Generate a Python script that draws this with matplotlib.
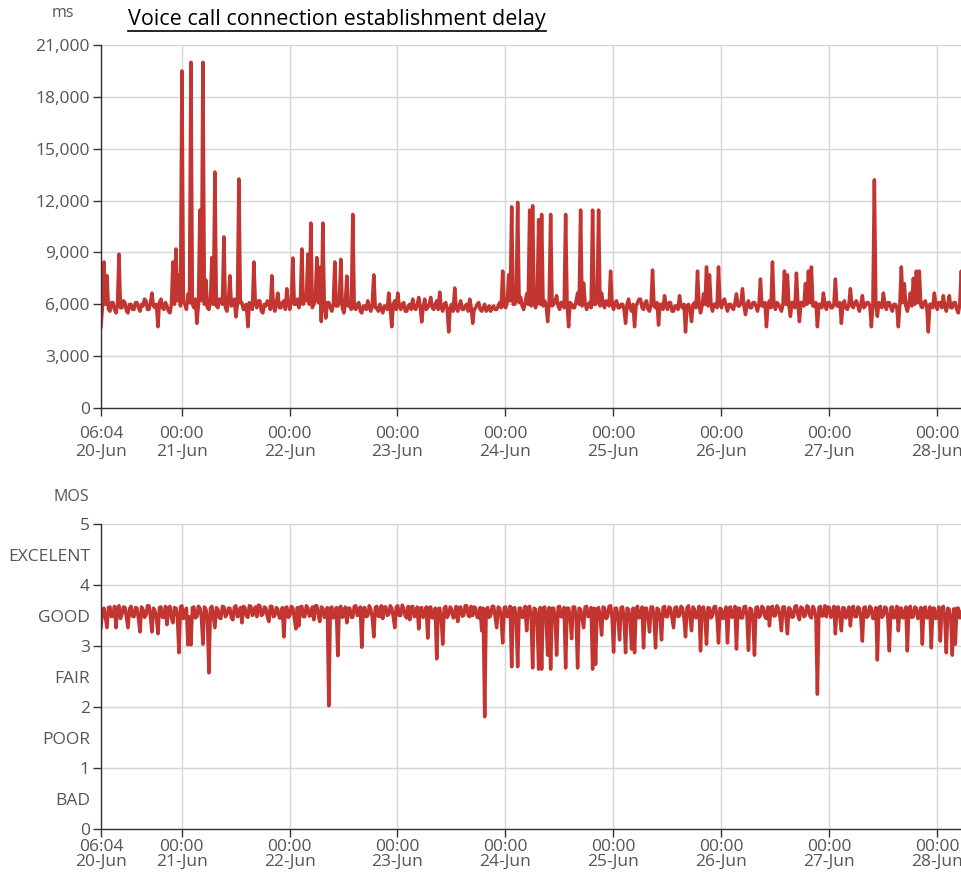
import matplotlib
matplotlib.use("Agg")
import matplotlib.pyplot as plt
from matplotlib.lines import Line2D
from datetime import datetime, timedelta

plt.rcParams['font.family'] = ['Open Sans', 'DejaVu Sans']

# ---------------- data ----------------
start_time = datetime(2019, 6, 20, 6, 4)
sample_minutes = 20
end_time = datetime(2019, 6, 28, 5, 20)

title = "Voice call connection establishment delay"
delay_unit = "ms"
mos_unit = "MOS"

delay_ms = [
    4700, 5900, 8450, 6000, 7650, 5700, 5600, 6100, 6100, 5700, 5500, 6000, 8900, 5800, 5800, 6200, 6100, 5600, 5500, 6000, 6000, 5700, 5700, 6100,
    6100, 5800, 5600, 6000, 5900, 6300, 6200, 5700, 5700, 6100, 6650, 5900, 5800, 6000, 4700, 6100, 6300, 5800, 5700, 6100, 5900, 5600, 5500, 6000,
    8450, 6000, 9200, 6200, 7700, 5900, 19500, 6100, 6000, 5700, 6600, 6100, 20000, 6000, 5800, 6300, 4900, 6000, 11450, 6200, 20000, 6000, 7400, 5800,
    5700, 6200, 8700, 6000, 13650, 5900, 5800, 6300, 6300, 6000, 9900, 5800, 5600, 6200, 7650, 5900, 6000, 6300, 5270, 6000, 13250, 6100, 6100, 5700,
    5700, 6000, 4700, 6100, 6000, 5700, 8450, 6000, 5800, 6200, 6200, 5600, 5500, 6000, 5900, 6200, 6100, 5700, 7650, 5900, 5600, 6100, 6650, 5800,
    5800, 6100, 6200, 5700, 6900, 6000, 5700, 6200, 8680, 6000, 6000, 6300, 5800, 6100, 9200, 6000, 6500, 6200, 8900, 6000, 10700, 5800, 6000, 6300,
    8700, 6100, 8150, 5000, 10700, 6000, 5200, 6100, 6100, 5800, 5600, 6000, 8450, 5900, 5900, 6100, 8600, 5800, 5500, 6000, 7630, 5900, 6000, 5700,
    11200, 5800, 5700, 6000, 6100, 5600, 5500, 5900, 5900, 5700, 6200, 5800, 5600, 6000, 7700, 5800, 5800, 5600, 6000, 5700, 5500, 5900, 5900, 5700,
    6650, 5800, 4700, 6000, 6200, 5700, 6650, 5900, 5700, 6000, 6100, 5600, 5600, 5900, 6000, 5700, 6300, 5800, 5700, 6000, 6400, 5800, 4980, 5900,
    6300, 5700, 5800, 6000, 6400, 5800, 5700, 6000, 6200, 5700, 6700, 5800, 5600, 6000, 6100, 5700, 4400, 5800, 6000, 5600, 6940, 5800, 5600, 5900,
    6200, 5700, 5700, 5900, 6000, 5600, 6300, 5800, 4900, 5700, 5800, 6000, 6100, 5700, 5600, 5800, 6000, 5600, 5700, 5900, 5600, 5800, 5900, 5700,
    5700, 5900, 6100, 5800, 7920, 5900, 5800, 6100, 7700, 6200, 11640, 6000, 6000, 6200, 11900, 6100, 6400, 5900, 5700, 6100, 6600, 6000, 11450, 5900,
    11700, 6000, 5800, 6200, 10900, 6000, 11200, 5900, 6200, 6000, 5000, 6100, 11200, 5900, 6000, 6200, 6500, 5900, 5700, 6100, 6100, 5800, 11200, 6000,
    4700, 6100, 6000, 5800, 5800, 6200, 6650, 6000, 11450, 5900, 7230, 6100, 5700, 6000, 6100, 5800, 11450, 6000, 6000, 6200, 11450, 5900, 6650, 6000,
    5800, 6200, 6100, 5900, 7920, 6000, 5700, 6100, 6200, 5800, 5800, 6000, 6000, 5700, 4900, 6000, 6300, 5800, 5600, 6000, 4700, 5900, 6100, 6300,
    6300, 5800, 5700, 6100, 6200, 5700, 5600, 6000, 7980, 5900, 5800, 6100, 4800, 6000, 6000, 5700, 6500, 5900, 5700, 6100, 6100, 5600, 5600, 5900,
    5900, 5700, 6500, 5900, 5800, 6000, 4400, 5900, 6000, 5700, 5000, 6000, 6100, 5800, 7920, 6000, 5500, 5900, 6600, 6000, 8160, 5900, 7700, 6000,
    5600, 6000, 6000, 5800, 8160, 6000, 5800, 6200, 6300, 5900, 5600, 6000, 6000, 5800, 5700, 6100, 6600, 5900, 5900, 6100, 6900, 5900, 5400, 6000,
    6200, 5800, 5800, 6100, 6100, 5900, 5600, 6000, 7460, 5900, 5900, 6100, 4700, 6000, 6200, 5800, 8450, 6000, 5700, 6100, 6000, 5800, 5600, 6000,
    7920, 6000, 7700, 5900, 5300, 6100, 6100, 5800, 7800, 6000, 5000, 6100, 6100, 5900, 7200, 6000, 7920, 6100, 8160, 5900, 5900, 6100, 4700, 6000,
    6000, 5800, 6650, 6000, 5700, 6100, 6100, 5800, 5800, 6000, 7460, 5900, 5900, 6100, 4900, 6000, 6200, 5800, 5700, 6000, 6900, 5900, 5800, 6100,
    6200, 5900, 5600, 6000, 6500, 5800, 5900, 6100, 6100, 5900, 4700, 6000, 13200, 6000, 5300, 6100, 6000, 5800, 6650, 6000, 5700, 6100, 6100, 5800,
    5600, 6000, 6000, 5800, 4700, 6000, 8160, 6100, 7200, 5900, 5600, 6000, 6650, 5900, 7500, 6000, 7920, 6100, 7920, 5900, 5800, 6100, 6200, 5800,
    4400, 6000, 6000, 5800, 6650, 6000, 5700, 6100, 6100, 5800, 6500, 5900, 5600, 6000, 6500, 5800, 5800, 6100, 6100, 5700, 5500, 6000, 7920, 6000,
]

mos = [
    3.30, 3.60, 3.62, 3.46, 3.30, 3.63, 3.64, 3.48, 3.50, 3.65, 3.30, 3.62, 3.66, 3.45, 3.52, 3.64, 3.63, 3.47, 3.30, 3.61, 3.65, 3.49, 3.48, 3.63,
    3.62, 3.45, 3.23, 3.64, 3.60, 3.47, 3.50, 3.66, 3.66, 3.48, 3.23, 3.62, 3.58, 3.46, 3.20, 3.63, 3.64, 3.47, 3.47, 3.65, 3.35, 3.62, 3.65, 3.46,
    3.38, 3.63, 3.62, 3.47, 2.89, 3.64, 3.66, 3.45, 3.50, 3.62, 3.02, 3.48, 3.02, 3.63, 3.64, 3.46, 3.48, 3.65, 3.62, 3.47, 3.03, 3.64, 3.60, 3.45,
    2.56, 3.62, 3.65, 3.47, 3.30, 3.63, 3.60, 3.46, 3.45, 3.65, 3.64, 3.48, 3.52, 3.62, 3.62, 3.46, 3.43, 3.64, 3.66, 3.48, 3.50, 3.63, 3.38, 3.65,
    3.63, 3.49, 3.47, 3.66, 3.65, 3.50, 3.55, 3.64, 3.48, 3.67, 3.66, 3.50, 3.52, 3.64, 3.62, 3.48, 3.40, 3.65, 3.65, 3.48, 3.50, 3.63, 3.60, 3.46,
    3.46, 3.63, 3.15, 3.62, 3.64, 3.47, 3.50, 3.65, 3.62, 3.46, 3.28, 3.63, 3.33, 3.64, 3.65, 3.48, 3.48, 3.66, 3.62, 3.49, 3.50, 3.64, 3.43, 3.66,
    3.66, 3.50, 3.40, 3.64, 3.62, 3.47, 3.50, 3.63, 2.02, 3.62, 3.64, 3.46, 3.48, 3.63, 2.84, 3.62, 3.65, 3.47, 3.50, 3.64, 3.38, 3.62, 3.62, 3.47,
    3.47, 3.65, 3.66, 3.50, 3.52, 3.64, 2.98, 3.62, 3.63, 3.48, 3.50, 3.66, 3.60, 3.47, 3.15, 3.63, 3.65, 3.49, 3.48, 3.66, 3.45, 3.64, 3.64, 3.50,
    3.52, 3.66, 3.62, 3.48, 3.30, 3.64, 3.66, 3.50, 3.50, 3.67, 3.62, 3.49, 3.46, 3.65, 3.43, 3.64, 3.65, 3.48, 3.50, 3.64, 3.28, 3.62, 3.63, 3.47,
    3.50, 3.64, 3.13, 3.63, 3.64, 3.46, 3.47, 3.62, 2.79, 3.61, 3.62, 3.45, 3.03, 3.62, 3.65, 3.47, 3.52, 3.64, 3.60, 3.46, 3.48, 3.65, 3.40, 3.63,
    3.64, 3.49, 3.50, 3.66, 3.66, 3.50, 3.48, 3.65, 3.50, 3.64, 3.62, 3.47, 3.46, 3.63, 3.25, 3.62, 1.84, 3.60, 3.63, 3.47, 3.50, 3.65, 3.65, 3.48,
    3.30, 3.64, 3.62, 3.47, 3.05, 3.63, 3.64, 3.48, 3.50, 3.65, 2.66, 3.62, 3.63, 3.46, 2.66, 3.62, 3.62, 3.47, 3.48, 3.65, 3.25, 3.63, 3.65, 3.48,
    2.64, 3.62, 3.60, 3.46, 2.62, 3.63, 2.62, 3.62, 3.64, 3.47, 2.85, 3.63, 2.62, 3.62, 3.62, 3.46, 2.85, 3.64, 3.65, 3.48, 3.48, 3.63, 2.64, 3.62,
    3.62, 3.47, 3.12, 3.64, 3.64, 3.48, 2.64, 3.62, 3.60, 3.46, 3.30, 3.64, 3.65, 3.48, 3.50, 3.63, 2.62, 3.62, 2.70, 3.61, 3.63, 3.47, 3.18, 3.64,
    3.62, 3.45, 3.48, 3.65, 3.66, 3.47, 2.90, 3.62, 3.62, 3.46, 3.10, 3.63, 3.64, 3.45, 2.89, 3.62, 3.60, 3.44, 2.95, 3.62, 2.89, 3.61, 3.65, 3.46,
    3.50, 3.64, 2.97, 3.62, 3.62, 3.46, 3.23, 3.64, 3.64, 3.47, 2.97, 3.62, 3.60, 3.45, 3.10, 3.63, 3.65, 3.48, 3.48, 3.64, 3.62, 3.46, 3.30, 3.63,
    3.64, 3.48, 3.50, 3.65, 3.62, 3.46, 3.15, 3.63, 3.66, 3.48, 3.25, 3.64, 3.60, 3.46, 3.48, 3.65, 2.92, 3.62, 3.64, 3.47, 3.03, 3.63, 3.62, 3.46,
    3.50, 3.64, 3.65, 3.48, 3.05, 3.62, 3.60, 3.45, 3.48, 3.64, 3.05, 3.62, 3.64, 3.47, 3.50, 3.65, 2.95, 3.62, 3.62, 3.46, 3.46, 3.64, 3.65, 3.48,
    2.93, 3.62, 3.60, 3.45, 2.85, 3.63, 3.64, 3.47, 3.50, 3.65, 3.62, 3.48, 3.45, 3.64, 3.33, 3.63, 3.65, 3.49, 3.50, 3.66, 3.62, 3.48, 3.25, 3.64,
    3.64, 3.48, 3.20, 3.63, 3.60, 3.47, 3.48, 3.65, 3.66, 3.50, 3.43, 3.64, 3.62, 3.48, 3.50, 3.66, 3.64, 3.49, 3.46, 3.65, 3.60, 3.47, 2.21, 3.63,
    3.65, 3.49, 3.50, 3.66, 3.48, 3.64, 3.63, 3.47, 3.50, 3.65, 3.20, 3.63, 3.64, 3.47, 3.25, 3.63, 3.62, 3.46, 3.50, 3.64, 3.33, 3.62, 3.65, 3.48,
    3.48, 3.64, 3.62, 3.46, 3.08, 3.63, 3.64, 3.47, 3.50, 3.65, 3.62, 3.45, 3.46, 3.63, 2.77, 3.62, 3.65, 3.47, 3.50, 3.64, 3.62, 3.45, 2.92, 3.63,
    3.64, 3.46, 3.48, 3.65, 3.25, 3.62, 3.62, 3.46, 3.50, 3.64, 2.92, 3.62, 3.65, 3.47, 3.48, 3.64, 3.62, 3.45, 3.50, 3.63, 3.03, 3.62, 3.64, 3.46,
    3.50, 3.64, 2.97, 3.62, 3.62, 3.45, 3.48, 3.64, 3.08, 3.62, 3.65, 3.46, 2.89, 3.62, 3.60, 3.44, 2.85, 3.61, 3.03, 3.62, 3.62, 3.46, 3.50, 3.63,
]

delay_ticks = [0, 3000, 6000, 9000, 12000, 15000, 18000, 21000]
mos_ticks = [0, 1, 2, 3, 4, 5]
mos_levels = [0.5, 1.5, 2.5, 3.5, 4.5]
mos_level_labels = ["BAD", "POOR", "FAIR", "GOOD", "EXCELENT"]

# ---------------- drawing ----------------
times = [start_time + timedelta(minutes=sample_minutes * i) for i in range(len(delay_ms))]
times_mos = [start_time + timedelta(minutes=sample_minutes * i) for i in range(len(mos))]

line_color = "#c23531"
grid_color = "#d6d6d6"
axis_color = "#333333"
text_color = "#555555"
fs = 12.5

W, H = 961, 872
fig = plt.figure(figsize=(W / 100, H / 100), dpi=100)
ax1 = fig.add_axes([101 / W, 1 - 408 / H, 860 / W, 363 / H])
ax2 = fig.add_axes([101 / W, 1 - 829 / H, 860 / W, 305 / H])

xticks = [start_time] + [datetime(2019, 6, d) for d in range(21, 29)]
xlabels = ["06:04\n20-Jun"] + [f"00:00\n{d}-Jun" for d in range(21, 29)]

for ax, pad, ls in ((ax1, 7, 1.15), (ax2, 1, 0.95)):
    ax.set_xlim(start_time, end_time)
    ax.set_xticks(xticks)
    ax.set_xticklabels(xlabels, fontsize=fs, color=text_color, linespacing=ls)
    for s in ("top", "right"):
        ax.spines[s].set_visible(False)
    for s in ("left", "bottom"):
        ax.spines[s].set_color(axis_color)
        ax.spines[s].set_linewidth(1.0)
    ax.tick_params(axis="both", direction="out", length=6, width=1, color=axis_color,
                   labelcolor=text_color, pad=2)
    ax.tick_params(axis="x", pad=pad)
    ax.grid(True, color=grid_color, linewidth=1.0)
    ax.set_axisbelow(True)

ax1.plot(times, delay_ms, color=line_color, linewidth=2.5)
ax1.set_ylim(0, 21000)
ax1.set_yticks(delay_ticks)
ax1.set_yticklabels([f"{v:,}" for v in delay_ticks], fontsize=fs)

ax2.plot(times_mos, mos, color=line_color, linewidth=2.5)
ax2.set_ylim(0, 5)
ax2.set_yticks(mos_ticks)
ax2.set_yticklabels([str(v) for v in mos_ticks], fontsize=fs)
ax2.set_yticks(mos_levels, minor=True)
ax2.set_yticklabels(mos_level_labels, minor=True, fontsize=fs)
ax2.tick_params(axis="y", which="minor", length=0, pad=8, labelcolor=text_color)

fig.text(63 / W, 1 - 13 / H, delay_unit, fontsize=11.5, color=text_color, ha="center", va="center")
fig.text(71 / W, 1 - 497 / H, mos_unit, fontsize=11.5, color=text_color, ha="center", va="center")

t = fig.text(128 / W, 1 - 20 / H, title, fontsize=15.5, color="black", ha="left", va="center")
fig.canvas.draw()
bb = t.get_window_extent()
uy = bb.y0 - 1
fig.add_artist(Line2D([bb.x0 / W, bb.x1 / W], [uy / H, uy / H], color="black", linewidth=1.2,
                      transform=fig.transFigure))

fig.savefig("out.png", dpi=100)
